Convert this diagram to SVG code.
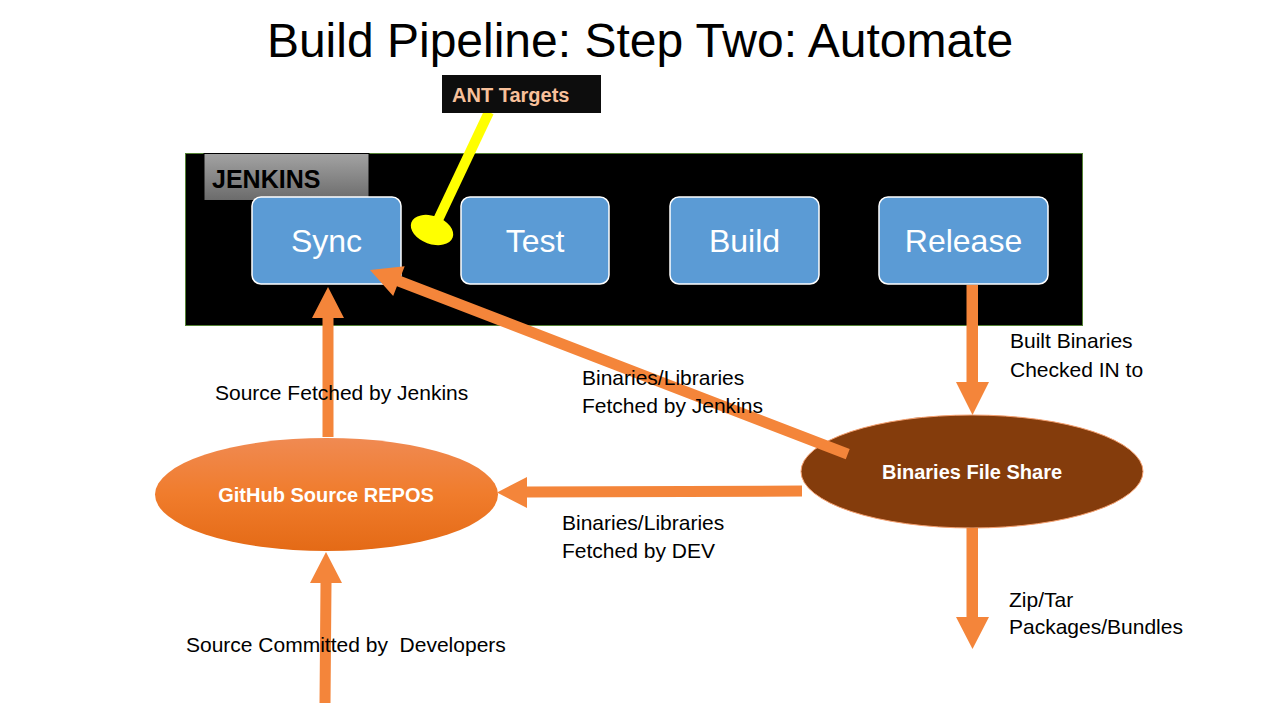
<svg xmlns="http://www.w3.org/2000/svg" width="1280" height="720" viewBox="0 0 1280 720">
<defs>
<linearGradient id="gGrey" x1="0" y1="0" x2="0" y2="1"><stop offset="0" stop-color="#a3a3a3"/><stop offset="1" stop-color="#6b6b6b"/></linearGradient>
<linearGradient id="gOrange" x1="0" y1="0" x2="0" y2="1"><stop offset="0" stop-color="#f08a52"/><stop offset="0.5" stop-color="#f07c2c"/><stop offset="1" stop-color="#e46a16"/></linearGradient>
<style>
.t{font-family:"Liberation Sans",Arial,sans-serif;fill:#000}
.lbl{font-size:21px}
.box{fill:#5b9bd5;stroke:#ffffff;stroke-width:1.5}
.boxt{font-family:"Liberation Sans",Arial,sans-serif;font-size:32px;fill:#fff;text-anchor:middle}
.ell{font-family:"Liberation Sans",Arial,sans-serif;font-size:20px;font-weight:bold;fill:#fff;text-anchor:middle}
.arr{fill:#f4853a}
</style>
</defs>
<rect width="1280" height="720" fill="#fff"/>
<text class="t" x="640" y="57" font-size="48" text-anchor="middle">Build Pipeline: Step Two: Automate</text>

<g id="jenkins">
<rect x="185.5" y="153.5" width="897" height="172" fill="#000" stroke="#548235" stroke-width="1"/>
<rect x="204" y="153.5" width="165" height="47" fill="url(#gGrey)" stroke="#000" stroke-width="1"/>
<text class="t" x="212" y="188" font-size="25" font-weight="bold">JENKINS</text>
</g>
<g id="sync"><rect class="box" x="252" y="197" width="149" height="87" rx="9"/><text class="boxt" x="326.5" y="252">Sync</text></g>
<g id="test"><rect class="box" x="461" y="197" width="148" height="87" rx="9"/><text class="boxt" x="535" y="252">Test</text></g>
<g id="build"><rect class="box" x="670" y="197" width="149" height="87" rx="9"/><text class="boxt" x="744.5" y="252">Build</text></g>
<g id="release"><rect class="box" x="879" y="197" width="169" height="87" rx="9"/><text class="boxt" x="963.5" y="252">Release</text></g>

<g id="ant">
<line x1="489" y1="112" x2="437" y2="222" stroke="#ffff00" stroke-width="10"/>
<ellipse cx="432" cy="230" rx="22" ry="14" transform="rotate(20 432 230)" fill="#ffff00"/>
<rect x="442" y="75" width="159" height="38" fill="#0d0d0d"/>
<text x="452" y="102" font-family="Liberation Sans,Arial,sans-serif" font-size="20" font-weight="bold" fill="#f8c09a">ANT Targets</text>
</g>

<g id="github">
<ellipse cx="326.5" cy="494.5" rx="171.5" ry="56.5" fill="url(#gOrange)"/>
<text class="ell" x="326" y="502">GitHub Source REPOS</text>
</g>
<g id="fileshare">
<ellipse cx="972" cy="471.5" rx="171" ry="56.5" fill="#843c0c" stroke="#f4a070" stroke-width="1"/>
<text class="ell" x="972" y="479">Binaries File Share</text>
</g>

<g id="connectors">
<polygon class="arr" points="322.5,437 322.5,318 312,318 328,287 344,318 333.5,318 333.5,437"/>
<polygon class="arr" points="319.5,703 320.5,583 310,583 326,552 342,583 331.5,583 330.5,703"/>
<polygon class="arr" points="966.5,285 966.5,382 956,382 972.5,415 989,382 978,382 978,285"/>
<polygon class="arr" points="966.5,528 966.5,617 956,617 972.5,649 989,617 978,617 978,528"/>
<polygon class="arr" points="802,485.5 527,486.5 527,477 497,492.5 527,508 527,497.5 802,496.5"/>
<polygon class="arr" transform="translate(370,270) rotate(21.08)" points="0,0 31,-16 31,-5.5 512,-5.5 512,5.5 31,5.5 31,16"/>
</g>

<g id="labels">
<text class="t lbl" x="215" y="400">Source Fetched by Jenkins</text>
<text class="t lbl" x="186" y="652" xml:space="preserve">Source Committed by  Developers</text>
<text class="t lbl" x="582" y="385">Binaries/Libraries</text>
<text class="t lbl" x="582" y="413">Fetched by Jenkins</text>
<text class="t lbl" x="562" y="530">Binaries/Libraries</text>
<text class="t lbl" x="562" y="558">Fetched by DEV</text>
<text class="t lbl" x="1010" y="348">Built Binaries</text>
<text class="t lbl" x="1010" y="377">Checked IN to</text>
<text class="t lbl" x="1009" y="607">Zip/Tar</text>
<text class="t lbl" x="1009" y="634">Packages/Bundles</text>
</g>
</svg>
